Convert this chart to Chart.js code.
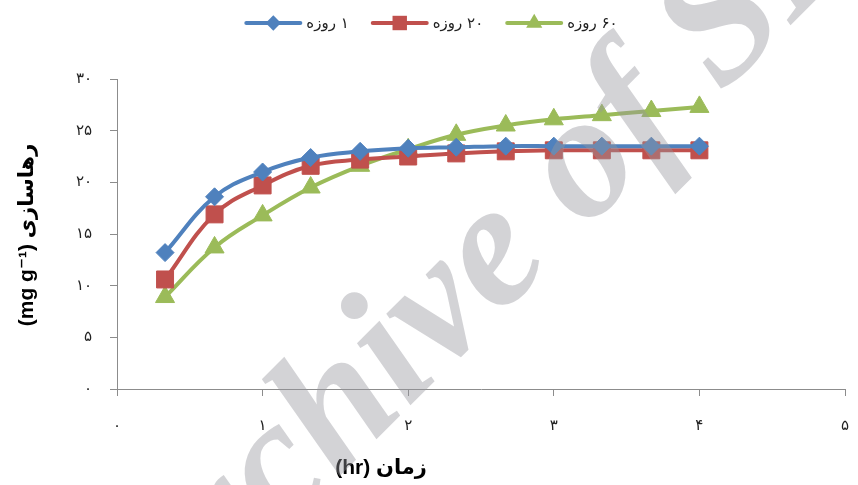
<!DOCTYPE html>
<html>
<head>
<meta charset="utf-8">
<script src="https://cdn.jsdelivr.net/npm/chart.js@4.4.0/dist/chart.umd.min.js"></script>
<style>
    html, body { margin: 0; padding: 0; background: #fff; }
    #wrap { width: 858px; height: 485px; }
</style>
</head>
<body>
<div id="wrap"><canvas id="releaseChart" width="858" height="485"></canvas></div>
<script>
const timeHours = [0.33, 0.67, 1, 1.33, 1.67, 2, 2.33, 2.67, 3, 3.33, 3.67, 4];
const release1Day = [13.2, 18.6, 21.0, 22.4, 23.0, 23.3, 23.4, 23.5, 23.5, 23.5, 23.5, 23.5];
const release20Day = [10.6, 16.9, 19.7, 21.6, 22.2, 22.5, 22.8, 23.0, 23.1, 23.1, 23.1, 23.1];
const release60Day = [8.9, 13.7, 16.8, 19.5, 21.6, 23.2, 24.6, 25.5, 26.1, 26.5, 26.9, 27.3];
const seriesLabels = ['۱ روزه', '۲۰ روزه', '۶۰ روزه'];
const xTickLabels = ['۰', '۱', '۲', '۳', '۴', '۵'];
const yTickLabels = ['۰', '۵', '۱۰', '۱۵', '۲۰', '۲۵', '۳۰'];
const xTitle = 'زمان (hr)';
const yTitle = 'رهاسازی (mg g⁻¹)';
const watermarkText = 'Archive of SID';

const BLUE = '#4F81BD';
const RED = '#C0504D';
const GREEN = '#9BBB59';
const AXIS = '#8c8c8c';

const toPoints = (values) => values.map((v, i) => ({ x: timeHours[i], y: v }));

const makeDataset = (label, values, color, style, radius) => ({
    label: label,
    data: toPoints(values),
    borderColor: color,
    backgroundColor: color,
    borderWidth: 4,
    pointStyle: style,
    pointRadius: radius,
    pointHoverRadius: radius,
    pointBackgroundColor: color,
    pointBorderColor: color,
    pointBorderWidth: 1,
    tension: 0.4,
    fill: false
});

// marker shapes for the hand drawn legend
const drawMarker = (ctx, style, x, y, r, color) => {
    ctx.save();
    ctx.fillStyle = color;
    ctx.beginPath();
    if (style === 'rectRot') {
        ctx.moveTo(x, y - r); ctx.lineTo(x + r, y); ctx.lineTo(x, y + r); ctx.lineTo(x - r, y);
    } else if (style === 'rect') {
        const s = r * Math.SQRT1_2;
        ctx.rect(x - s, y - s, 2 * s, 2 * s);
    } else {
        const h = r * Math.sqrt(3) / 2;
        ctx.moveTo(x, y - r); ctx.lineTo(x + h, y + r / 2); ctx.lineTo(x - h, y + r / 2);
    }
    ctx.closePath();
    ctx.fill();
    ctx.restore();
};

const decorations = {
    id: 'decorations',
    afterDraw: (chart) => {
        const ctx = chart.ctx;

        // legend
        ctx.save();
        ctx.font = '15px "DejaVu Sans", sans-serif';
        ctx.direction = 'rtl';
        ctx.textAlign = 'left';
        ctx.textBaseline = 'middle';
        const lineLen = 58, gap = 4, spacing = 22, legendY = 23;
        const items = chart.data.datasets.map(ds => ({ ds: ds, w: ctx.measureText(ds.label).width }));
        const total = items.reduce((s, it) => s + lineLen + gap + it.w, 0) + spacing * (items.length - 1);
        let x = 431 - total / 2;
        items.forEach(it => {
            ctx.strokeStyle = it.ds.borderColor;
            ctx.lineWidth = 4;
            ctx.lineCap = 'round';
            ctx.beginPath();
            ctx.moveTo(x + 2, legendY);
            ctx.lineTo(x + lineLen - 2, legendY);
            ctx.stroke();
            drawMarker(ctx, it.ds.pointStyle, x + lineLen / 2, legendY, it.ds.pointRadius * 0.85, it.ds.borderColor);
            ctx.fillStyle = '#222';
            ctx.fillText(it.ds.label, x + lineLen + gap, legendY + 1);
            x += lineLen + gap + it.w + spacing;
        });
        ctx.restore();

        // axis titles
        ctx.save();
        ctx.fillStyle = '#000';
        ctx.font = 'bold 21px "Liberation Sans", "DejaVu Sans", sans-serif';
        ctx.direction = 'rtl';
        ctx.textAlign = 'center';
        ctx.textBaseline = 'middle';
        ctx.fillText(xTitle, 381, 468);
        ctx.translate(27, 235);
        ctx.rotate(-Math.PI / 2);
        ctx.fillText(yTitle, 0, 0);
        ctx.restore();

        // watermark
        ctx.save();
        const size = 178;
        ctx.font = 'italic bold ' + size + 'px "Liberation Serif", serif';
        ctx.fillStyle = 'rgba(150, 150, 158, 0.42)';
        ctx.textAlign = 'left';
        ctx.textBaseline = 'alphabetic';
        const before = ctx.measureText('Archive ').width;
        const oW = ctx.measureText('o').width;
        ctx.translate(588, 170);
        ctx.rotate(-45 * Math.PI / 180);
        ctx.fillText(watermarkText, -(before + oW / 2), size * 0.23);
        ctx.restore();
    }
};

const renderChart = () => {
    const ctx = document.getElementById('releaseChart').getContext('2d');
    new Chart(ctx, {
        type: 'line',
        data: {
            datasets: [
                makeDataset(seriesLabels[0], release1Day, BLUE, 'rectRot', 9),
                makeDataset(seriesLabels[1], release20Day, RED, 'rect', 12),
                makeDataset(seriesLabels[2], release60Day, GREEN, 'triangle', 11)
            ]
        },
        options: {
            responsive: false,
            animation: false,
            layout: { padding: { top: 79, left: 0, right: 0, bottom: 0 } },
            plugins: {
                legend: { display: false },
                tooltip: { enabled: false }
            },
            scales: {
                x: {
                    type: 'linear',
                    min: 0,
                    max: 5,
                    ticks: {
                        stepSize: 1,
                        autoSkip: false,
                        maxRotation: 0,
                        padding: 21,
                        color: '#222',
                        font: { size: 15, family: '"DejaVu Sans", sans-serif' },
                        callback: (value, index) => xTickLabels[index]
                    },
                    grid: { drawOnChartArea: false, drawTicks: true, tickLength: 7, color: AXIS },
                    border: { color: AXIS, width: 1 },
                    afterFit: (scale) => {
                        scale.height = 96;
                        scale.paddingLeft = 0;
                        scale.paddingRight = 0;
                    }
                },
                y: {
                    min: 0,
                    max: 30,
                    ticks: {
                        stepSize: 5,
                        padding: 18,
                        color: '#222',
                        font: { size: 15, family: '"DejaVu Sans", sans-serif' },
                        callback: (value, index) => yTickLabels[index]
                    },
                    grid: { drawOnChartArea: false, drawTicks: true, tickLength: 7, color: AXIS },
                    border: { color: AXIS, width: 1 },
                    afterFit: (scale) => {
                        scale.width = 117;
                        scale.paddingTop = 0;
                        scale.paddingBottom = 0;
                    }
                }
            }
        },
        plugins: [decorations]
    });
};

window.onload = () => {
    renderChart();
};
</script>
</body>
</html>
